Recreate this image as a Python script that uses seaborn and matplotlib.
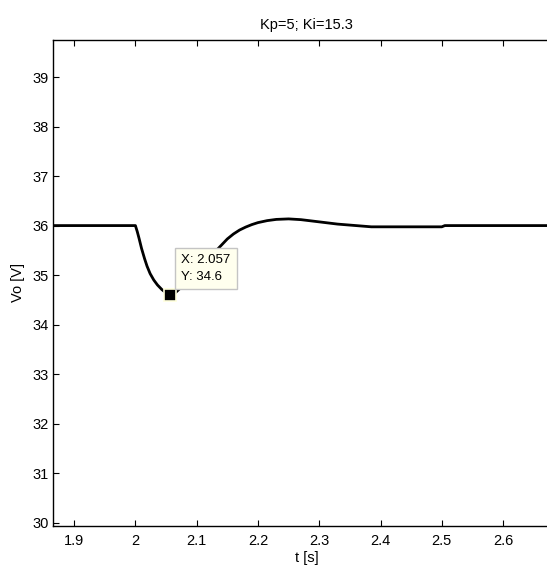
import matplotlib
matplotlib.use("Agg")
import matplotlib.pyplot as plt
import numpy as np
import pandas as pd
import seaborn as sns

# Output voltage step response (PI controller, Kp=5, Ki=15.3)
t_s = [1.865, 2.000, 2.003, 2.006, 2.010, 2.015, 2.019, 2.024, 2.030, 2.036,
       2.043, 2.050, 2.057, 2.064, 2.071, 2.080, 2.090, 2.100, 2.110, 2.120,
       2.130, 2.140, 2.150, 2.160, 2.170, 2.180, 2.190, 2.200, 2.215, 2.230,
       2.250, 2.270, 2.290, 2.310, 2.330, 2.350, 2.370, 2.385, 2.500, 2.505,
       2.694]
vo_v = [36.00, 36.00, 35.88, 35.74, 35.54, 35.33, 35.18, 35.03, 34.90, 34.80,
        34.71, 34.64, 34.60, 34.63, 34.71, 34.82, 34.95, 35.08, 35.21, 35.34,
        35.47, 35.60, 35.73, 35.83, 35.91, 35.97, 36.02, 36.06, 36.10, 36.125,
        36.135, 36.12, 36.09, 36.06, 36.03, 36.01, 35.99, 35.975, 35.975, 36.00,
        36.00]

# Data cursor
tip_t = 2.057
tip_v = 34.6

x_ticks = [1.9, 2.0, 2.1, 2.2, 2.3, 2.4, 2.5, 2.6]
x_tick_labels = ["1.9", "2", "2.1", "2.2", "2.3", "2.4", "2.5", "2.6"]
y_ticks = [30, 31, 32, 33, 34, 35, 36, 37, 38, 39]
y_tick_labels = [str(v) for v in y_ticks]

sns.set_theme(style="white")
plt.rcParams["font.family"] = ["Liberation Sans", "DejaVu Sans"]

fig = plt.figure(figsize=(5.47, 5.72), dpi=100)
ax = fig.add_axes([0.0963, 0.0804, 0.9287, 0.8497])

df = pd.DataFrame({"t": t_s, "vo": vo_v})
sns.lineplot(data=df, x="t", y="vo", ax=ax, color="black", linewidth=2.0,
             sort=False, estimator=None, legend=False)

ax.plot([tip_t], [tip_v], marker="s", markersize=8, markerfacecolor="black",
        markeredgecolor="#FFFFDC", markeredgewidth=1.2, linestyle="none", zorder=5)
ax.annotate(f"X: {tip_t}\nY: {tip_v}", xy=(tip_t, tip_v), xytext=(11, 12),
            textcoords="offset pixels", ha="left", va="bottom", fontsize=9.5,
            linespacing=1.5, color="black",
            bbox=dict(boxstyle="square,pad=0.45", fc="#FFFFEE", ec="#C4C4C4", lw=1),
            zorder=6)

ax.set_xlim(1.865, 2.694)
ax.set_ylim(29.93, 39.75)
ax.set_xticks(x_ticks)
ax.set_xticklabels(x_tick_labels)
ax.set_yticks(y_ticks)
ax.set_yticklabels(y_tick_labels)

ax.tick_params(axis="both", which="both", direction="in", length=4, width=0.8,
               color="black", labelsize=10.5, labelcolor="black",
               bottom=True, top=True, left=True, right=False)
ax.tick_params(axis="x", pad=6)
ax.tick_params(axis="y", pad=3)

for side in ["left", "bottom", "top"]:
    ax.spines[side].set_color("black")
    ax.spines[side].set_linewidth(1.0)
ax.spines["right"].set_visible(False)

ax.set_xlabel("t [s]", fontsize=10.5, color="black", labelpad=2)
ax.set_ylabel("Vo [V]", fontsize=10.5, color="black", labelpad=5)
ax.set_title("Kp=5; Ki=15.3", fontsize=10.5, color="black", pad=8)

fig.savefig("out.png", dpi=100, facecolor="white")
